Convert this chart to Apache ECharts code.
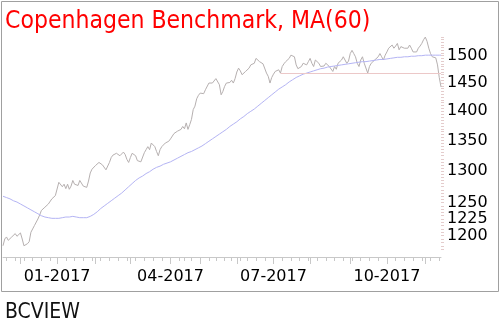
<!DOCTYPE html>
<html><head><meta charset="utf-8">
<script src="https://cdn.jsdelivr.net/npm/echarts@6/dist/echarts.min.js"></script>
<style>html,body{margin:0;padding:0;background:#fff}#c{width:502px;height:325px}</style>
</head><body><div id="c"></div>
<script>
// ---- data ----
const titleText = 'Copenhagen Benchmark, MA(60)';
const footerText = 'BCVIEW';
const startDate = '2016-11-17';
const holidays = ['2016-12-26','2017-04-13','2017-04-14','2017-04-17','2017-05-12','2017-05-25','2017-06-05'];
const price = [
1185,1195,1198,1193,1195,1198,1196,1203,1199,1201,1204,1195,1185,1184,1188,1191,1205,1210,1215,1217,
1225,1231,1238,1240,1243,1246,1248,1251,1256,1258,1261,1263,1282,1280,1275,1279,1272,1279,1271,1276,
1285,1279,1282,1277,1285,1282,1276,1274,1274,1284,1297,1303,1300,1309,1306,1314,1317,1310,1307,1302,
1300,1314,1322,1326,1325,1329,1330,1325,1327,1331,1327,1319,1314,1322,1329,1330,1325,1317,1314,1315,
1317,1330,1335,1340,1335,1346,1349,1340,1332,1325,1335,1340,1343,1346,1345,1349,1353,1352,1362,1360,
1366,1364,1369,1374,1370,1380,1369,1377,1386,1403,1409,1422,1428,1432,1435,1431,1438,1441,1450,1447,
1450,1453,1458,1456,1447,1429,1435,1444,1450,1447,1451,1455,1450,1458,1470,1477,1472,1465,1468,1471,
1468,1477,1483,1480,1486,1495,1492,1489,1486,1485,1483,1468,1462,1450,1460,1466,1471,1468,1474,1468,
1480,1485,1489,1492,1495,1501,1503,1498,1483,1476,1475,1480,1486,1489,1483,1489,1495,1486,1480,1492,
1495,1486,1480,1483,1481,1486,1483,1480,1477,1471,1480,1475,1486,1489,1492,1498,1495,1486,1490,1504,
1510,1504,1498,1486,1480,1492,1498,1486,1489,1468,1480,1486,1489,1492,1495,1498,1504,1498,1492,1501,
1507,1514,1517,1520,1514,1518,1523,1511,1517,1520,1514,1511,1514,1520,1514,1507,1504,1507,1514,1518,
1523,1530,1535,1527,1514,1504,1498,1501,1496,1483,1460,1443
];
const ma60 = [
1260,1259,1258,1257,1256,1255,1253,1252,1251,1249,1248,
1246,1245,1244,1242,1241,1239,1238,1236,1234,1233,1231,
1230,1229,1228,1227,1227,1226,1226,1226,1226,1226,
1226,1227,1227,1227,1228,1228,1228,1229,1229,1228,1228,1228,1227,1227,1227,1227,
1227,1228,1229,1230,1232,1234,1236,1239,
1241,1243,1245,1247,1249,1251,1253,1255,1257,1259,1261,1263,
1265,1268,1270,1273,1275,1278,1280,1283,1285,1287,1289,
1291,1292,1294,1296,1298,1299,1301,1303,1304,1306,
1307,1308,1310,1311,1312,1313,1314,1315,1317,
1318,1320,1321,1323,1324,1325,1327,1328,1330,1331,
1332,1334,1335,1337,1338,1340,1341,1343,1345,
1347,1349,1351,1353,1355,1357,1359,1361,1363,1365,
1367,1369,1372,1374,1376,1378,1380,1382,1385,
1387,1389,1391,1393,1396,1398,1400,1402,1404,1407,
1409,1412,1414,1417,1419,1421,1424,1426,1429,
1431,1434,1436,1439,1441,1443,1445,1447,1449,1452,1454,1456,1458,1460,1461,1463,1464,1466,1467,1468,
1469,1470,1471,1472,1473,1474,1475,1476,1477,1477,1478,1479,1480,1480,1481,1481,1482,1482,1483,1483,
1484,1484,1485,1485,1486,1486,1486,1487,1487,1488,1488,1489,1489,1489,1490,1490,1490,1491,1491,1492,
1492,1493,1493,1493,1494,1494,1495,1495,1495,1496,1496,1497,1497,1497,1498,1498,1498,1498,1499,1499,
1499,1499,1500,1500,1500,1500,1500,1501,1501,1501,1501,1501,1501,1501,1501,1501,1501
];
const yTickLabels = [1200,1225,1250,1300,1350,1400,1450,1500];
const yRange = [1168.6, 1539];
const supportLevel = {from: '2017-07-07', value: 1467};

// ---- build ----
function tradingDays(start, n, hol) {
  const out = []; const d = new Date(start + 'T00:00:00Z');
  while (out.length < n) {
    const dow = d.getUTCDay(); const s = d.toISOString().slice(0, 10);
    if (dow !== 0 && dow !== 6 && hol.indexOf(s) < 0) out.push(s);
    d.setUTCDate(d.getUTCDate() + 1);
  }
  return out;
}
const dates = tradingDays(startDate, price.length, holidays);
const dow = s => new Date(s + 'T00:00:00Z').getUTCDay();
const isWeekStart = i => i > 0 && dow(dates[i]) <= dow(dates[i-1]);
const isMonthStart = i => i > 0 && dates[i].slice(5,7) !== dates[i-1].slice(5,7);
const isQuarterStart = i => isMonthStart(i) && ['01','04','07','10'].indexOf(dates[i].slice(5,7)) >= 0;
const L = Math.log;
const minorTicks = [];
for (let v = 1180; v <= 1535; v += 5) minorTicks.push(L(v));

const chart = echarts.init(document.getElementById('c'), null, {renderer: 'canvas'});
chart.setOption({
  animation: false,
  backgroundColor: '#fff',
  title: [
    {text: titleText, left: 0, top: 4, textStyle: {color: '#ff0000', fontSize: 24.5, fontWeight: 'normal', fontFamily: 'DejaVu Sans Condensed'}},
    {text: footerText, left: 0, top: 297, textStyle: {color: '#111', fontSize: 21, fontWeight: 'normal', fontFamily: 'DejaVu Sans Condensed'}}
  ],
  graphic: [{type: 'rect', shape: {x: 1.5, y: 1.5, width: 497, height: 290}, style: {fill: null, stroke: '#a0a0a0', lineWidth: 1}, silent: true}],
  grid: {left: 3, right: 61, top: 35, bottom: 68, outerBoundsMode: 'none', containLabel: false},
  xAxis: [
    {type: 'category', data: dates, boundaryGap: false, position: 'bottom', offset: 0,
     axisLine: {show: true, lineStyle: {color: '#c8c8c8', width: 1}},
     axisTick: {show: true, length: 4, interval: (i) => isWeekStart(i), lineStyle: {color: '#c8c8c8'}},
     axisLabel: {show: true, interval: (i) => isQuarterStart(i), margin: 12, color: '#000', fontSize: 16, fontFamily: 'DejaVu Sans',
       formatter: v => v.slice(5,7) + '-' + v.slice(0,4)},
     splitLine: {show: false}},
    {type: 'category', data: dates, boundaryGap: false, position: 'bottom', offset: 0,
     axisLine: {show: false},
     axisTick: {show: true, length: 7, interval: (i) => isMonthStart(i), lineStyle: {color: '#c8c8c8'}},
     axisLabel: {show: false}, splitLine: {show: false}}
  ],
  yAxis: {type: 'value', position: 'right', min: L(yRange[0]), max: L(yRange[1]), scale: true,
    axisLine: {show: false}, splitLine: {show: false},
    axisTick: {show: true, length: 3, customValues: minorTicks, lineStyle: {color: '#e4cccc'}},
    axisLabel: {show: true, customValues: yTickLabels.map(L), margin: 6, color: '#000', fontSize: 16, fontFamily: 'DejaVu Sans',
      formatter: v => String(Math.round(Math.exp(v)))}},
  series: [
    {type: 'line', name: 'price', data: price.map(L), showSymbol: false, symbol: 'none',
     lineStyle: {color: '#b6b0b0', width: 1},
     markLine: {silent: true, symbol: 'none', label: {show: false}, lineStyle: {color: '#ecc8c8', width: 1, type: 'solid'},
       data: [[{coord: [supportLevel.from, L(supportLevel.value)]}, {coord: [dates[dates.length-1], L(supportLevel.value)]}]]}},
    {type: 'line', name: 'MA(60)', data: ma60.map(L), showSymbol: false, symbol: 'none',
     lineStyle: {color: '#b4b4f4', width: 1}}
  ]
});
</script></body></html>
